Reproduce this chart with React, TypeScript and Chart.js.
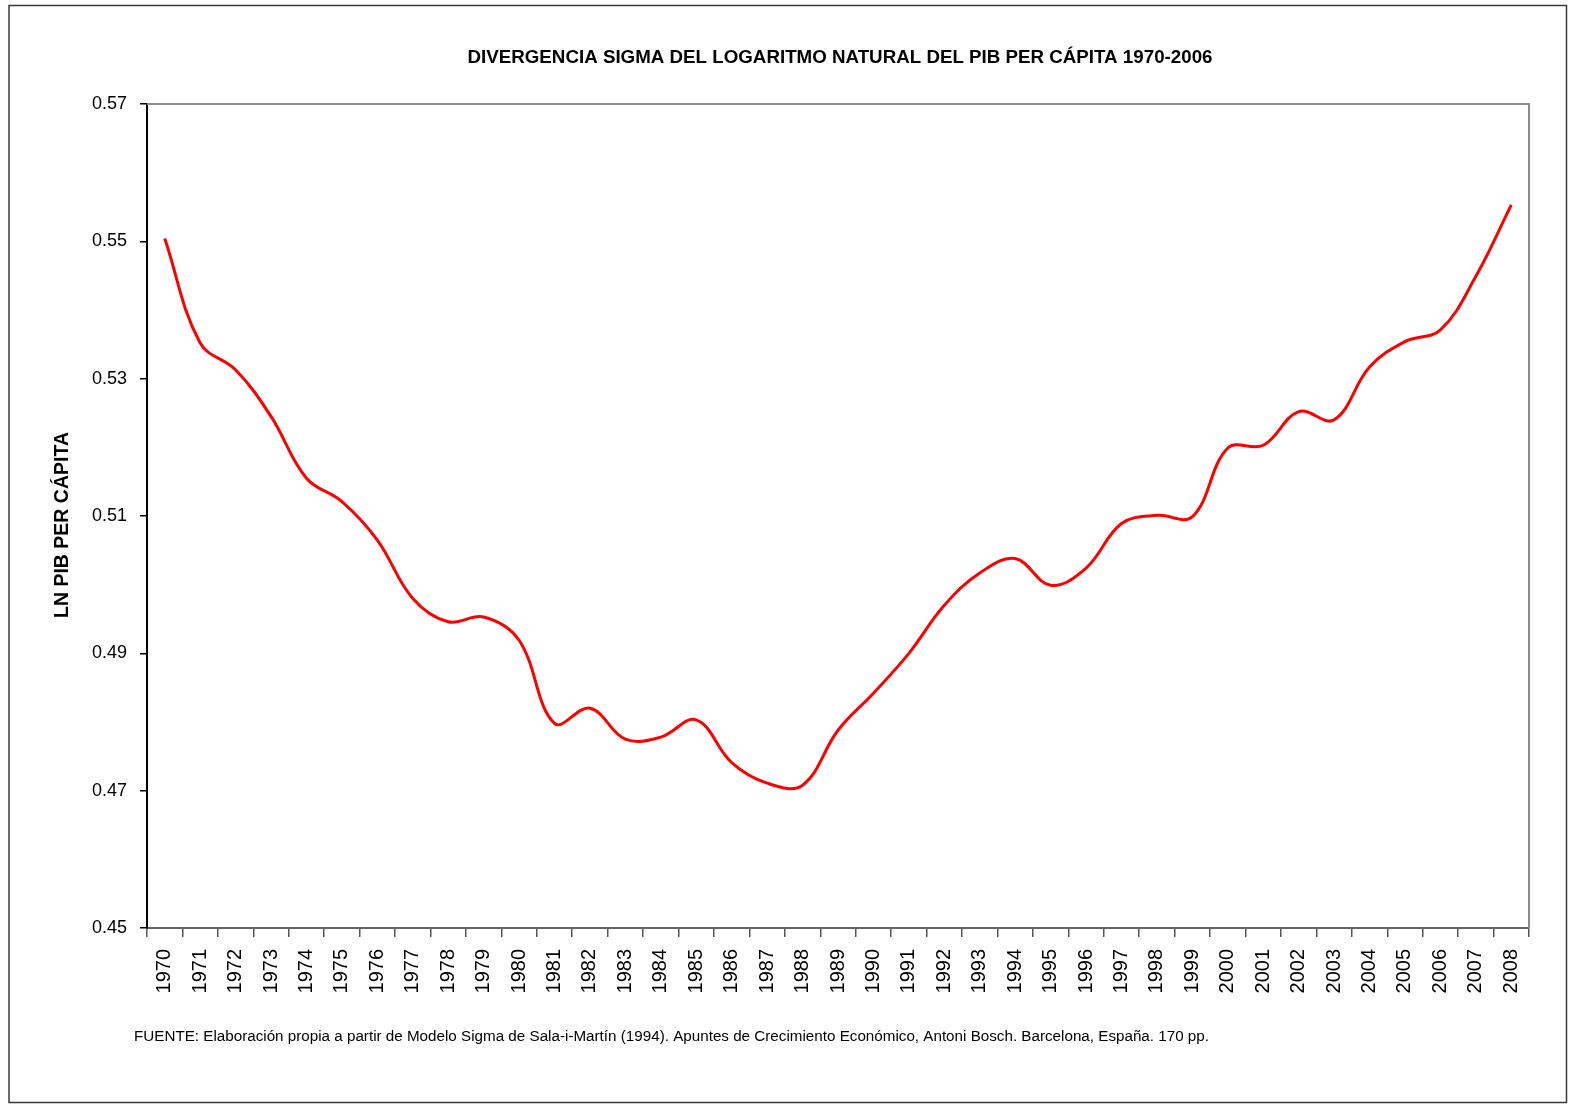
import { useEffect, useRef } from 'react';
import { Chart, registerables } from 'chart.js';

Chart.register(...registerables);

const years: string[] = [
  '1970', '1971', '1972', '1973', '1974', '1975', '1976', '1977', '1978', '1979',
  '1980', '1981', '1982', '1983', '1984', '1985', '1986', '1987', '1988', '1989',
  '1990', '1991', '1992', '1993', '1994', '1995', '1996', '1997', '1998', '1999',
  '2000', '2001', '2002', '2003', '2004', '2005', '2006', '2007', '2008',
];

const sigmaValues: number[] = [
  0.5504, 0.5352, 0.5313, 0.5245, 0.5155, 0.5121, 0.5065, 0.498, 0.4946, 0.4953,
  0.4919, 0.4798, 0.482, 0.4775, 0.4778, 0.4803, 0.4741, 0.4711, 0.4708, 0.4788,
  0.4842, 0.49, 0.497, 0.5017, 0.5038, 0.4999, 0.5024, 0.5089, 0.5101, 0.5099,
  0.5199, 0.5203, 0.5252, 0.524, 0.5317, 0.5354, 0.5371, 0.5449, 0.5553,
];

const yMin = 0.45;
const yMax = 0.57;
const yStep = 0.02;

const chartTitle = 'DIVERGENCIA SIGMA DEL LOGARITMO NATURAL DEL PIB PER CÁPITA 1970-2006';
const yTitle = 'LN PIB PER CÁPITA';
const footnote =
  'FUENTE: Elaboración propia a partir de Modelo Sigma de Sala-i-Martín (1994). Apuntes de Crecimiento Económico, Antoni Bosch. Barcelona, España. 170 pp.';

const W = 1569;
const H = 1105;
const FONT = '"Liberation Sans", Arial, Helvetica, sans-serif';

const decorPlugin = {
  id: 'decor',
  afterDraw(chart: any) {
    const { ctx, chartArea } = chart;
    const { left, top, right, bottom } = chartArea;
    ctx.save();
    // plot area top & right border
    ctx.strokeStyle = '#8c8c8c';
    ctx.lineWidth = 2;
    ctx.beginPath();
    ctx.moveTo(left, top);
    ctx.lineTo(right, top);
    ctx.lineTo(right, bottom);
    ctx.stroke();
    // outer border
    ctx.strokeStyle = '#3a3a3a';
    ctx.lineWidth = 1.5;
    ctx.strokeRect(9, 5.5, 1557.5, 1097);
    // title
    ctx.fillStyle = '#000';
    ctx.font = 'bold 19px ' + FONT;
    ctx.textAlign = 'center';
    ctx.textBaseline = 'middle';
    ctx.fillText(chartTitle, (left + right) / 2 + 2, 58, 745);
    // footnote
    ctx.font = '15.5px ' + FONT;
    ctx.textAlign = 'left';
    ctx.fillText(footnote, 134, 1037, 1075);
    // y title
    ctx.translate(62, 525);
    ctx.rotate(-Math.PI / 2);
    ctx.font = 'bold 20px ' + FONT;
    ctx.textAlign = 'center';
    ctx.fillText(yTitle, 0, 0, 186);
    ctx.restore();
  },
};

export default function App() {
  const ref = useRef<HTMLCanvasElement | null>(null);

  useEffect(() => {
    if (!ref.current) return;
    const chart = new Chart(ref.current, {
      type: 'line',
      data: {
        labels: years,
        datasets: [
          {
            data: sigmaValues,
            borderColor: '#ff0000',
            borderWidth: 3,
            pointRadius: 0,
            pointHoverRadius: 0,
            tension: 0.38,
            fill: false,
          },
        ],
      },
      options: {
        responsive: false,
        animation: false,
        devicePixelRatio: 1,
        layout: { padding: { left: 0, top: 104, right: W - 1529, bottom: 0 } },
        plugins: {
          legend: { display: false },
          tooltip: { enabled: false },
          title: { display: false },
        },
        scales: {
          x: {
            type: 'category',
            offset: true,
            grid: {
              offset: true,
              drawOnChartArea: false,
              drawTicks: true,
              tickLength: 9,
              color: '#555',
              lineWidth: 1.5,
            },
            border: { display: true, color: '#666', width: 2 },
            ticks: {
              autoSkip: false,
              minRotation: 90,
              maxRotation: 90,
              padding: 12,
              color: '#000',
              font: { family: FONT, size: 20 },
            },
            afterFit(scale: any) {
              scale.height = H - 928;
            },
          },
          y: {
            min: yMin,
            max: yMax,
            grid: {
              drawOnChartArea: false,
              drawTicks: true,
              tickLength: 7,
              color: '#000',
              lineWidth: 1.5,
            },
            border: { display: true, color: '#000', width: 2 },
            ticks: {
              stepSize: yStep,
              padding: 13,
              color: '#000',
              font: { family: FONT, size: 18 },
              callback: (v: any) => Number(v).toFixed(2),
            },
            afterFit(scale: any) {
              scale.width = 147;
            },
          },
        },
      },
      plugins: [decorPlugin],
    });
    return () => chart.destroy();
  }, []);

  return (
    <div style={{ position: 'absolute', left: 0, top: 0, width: W, height: H, background: '#fff' }}>
      <canvas ref={ref} width={W} height={H} style={{ width: W, height: H, display: 'block' }} />
    </div>
  );
}
